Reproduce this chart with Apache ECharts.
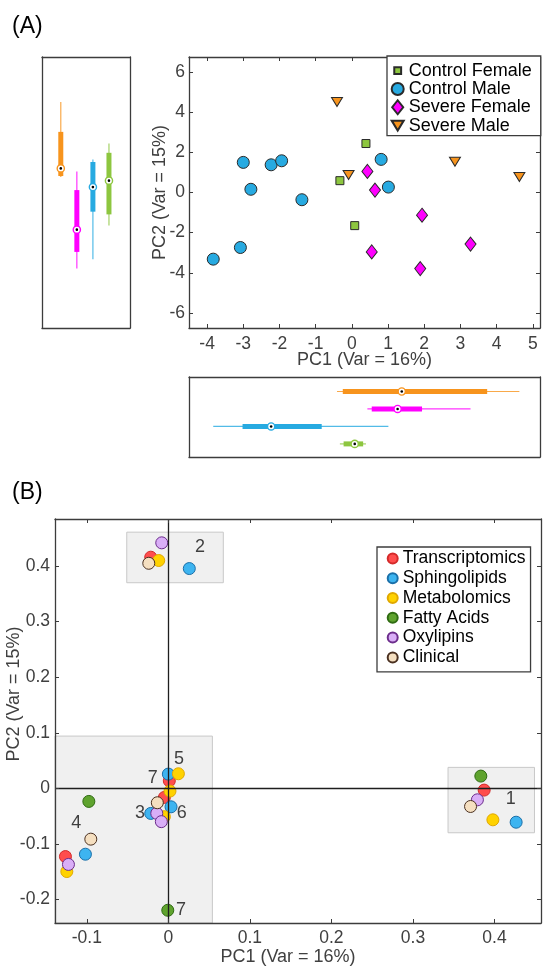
<!DOCTYPE html>
<html>
<head>
<meta charset="utf-8">
<script src="https://cdn.jsdelivr.net/npm/echarts@6/dist/echarts.min.js"></script>
<style>
  html, body { margin: 0; padding: 0; background: #fff; }
  #chart { width: 543px; height: 966px; }
</style>
</head>
<body>
<div id="chart"></div>
<script>
// ---------- Panel A: PCA scores per subject group ----------
const groupNames = ['Control Female', 'Control Male', 'Severe Female', 'Severe Male'];
const controlFemale = [[0.39, 2.44], [-0.33, 0.59], [0.08, -1.65]];
const controlMale = [[-3.00, 1.50], [-2.23, 1.38], [-1.94, 1.58], [-2.79, 0.16], [-1.38, -0.36],
                     [0.81, 1.65], [1.01, 0.27], [-3.08, -2.74], [-3.83, -3.32]];
const severeFemale = [[0.43, 1.05], [0.64, 0.12], [1.94, -1.13], [3.28, -2.57], [0.55, -2.96], [1.89, -3.79]];
const severeMale = [[-0.41, 4.51], [-0.09, 0.87], [2.85, 1.53], [4.63, 0.77]];
const ticksA_x = [-4, -3, -2, -1, 0, 1, 2, 3, 4, 5];
const ticksA_y = [-6, -4, -2, 0, 2, 4, 6];

// ---------- Panel B: loadings per data block ----------
const omicsNames = ['Transcriptomics', 'Sphingolipids', 'Metabolomics', 'Fatty Acids', 'Oxylipins', 'Clinical'];
const transcriptomics = [[-0.0216, 0.416], [0.3873, -0.0032], [-0.1262, -0.1228], [0.0012, 0.0135], [-0.0049, -0.0164]];
const sphingolipids = [[0.0257, 0.3955], [0.4265, -0.061], [-0.1017, -0.1186], [0.0, 0.0256], [0.0033, -0.0333], [-0.0216, -0.0452]];
const metabolomics = [[-0.0118, 0.41], [0.398, -0.0567], [-0.1245, -0.1498], [0.0123, 0.0262], [0.002, -0.005], [-0.0049, -0.051]];
const fattyAcids = [[0.3832, 0.022], [-0.0975, -0.0236], [-0.0007, -0.2195]];
const oxylipins = [[-0.0081, 0.4418], [0.379, -0.0207], [-0.1225, -0.137], [-0.0142, -0.045], [-0.0086, -0.060]];
const clinical = [[-0.024, 0.405], [0.3706, -0.0327], [-0.0951, -0.0915], [-0.0135, -0.026]];
const clusterLabels = [['1', 0.42, -0.02], ['2', 0.0388, 0.434], ['3', -0.0347, -0.0452], ['4', -0.113, -0.0632],
                       ['5', 0.0131, 0.052], ['6', 0.0164, -0.0452], ['7', -0.0191, 0.0178], ['7', 0.0156, -0.2195]];
// cluster regions: [x1, y1, x2, y2] in loading units
const clusterBoxes = [[-0.051, 0.370, 0.0674, 0.461], [0.343, -0.080, 0.449, 0.0377], [-0.139, -0.2424, 0.054, 0.094]];
const ticksB_x = [-0.1, 0, 0.1, 0.2, 0.3, 0.4];
const ticksB_y = [-0.2, -0.1, 0, 0.1, 0.2, 0.3, 0.4];

// ---------- styling ----------
const FONT = 'Liberation Sans, Arial, Helvetica, sans-serif';
const AXIS_COLOR = '#3c3c3c';
const TEXT_COLOR = '#404040';
const groupColors = { 'Control Female': '#8dc63f', 'Control Male': '#27aae1', 'Severe Female': '#ff00ff', 'Severe Male': '#f7941d' };
const omicsFill = ['#ff4d4d', '#3db4f0', '#ffd200', '#5fa32e', '#d9aef7', '#f5dfc0'];
const omicsBorder = ['#d42a2a', '#1b6fa8', '#e0a800', '#2f6b12', '#6c2d8c', '#4a3020'];

// MATLAB-style percentile (position p*n + 0.5, linear interpolation)
function quantileM(sorted, p) {
  const n = sorted.length;
  const pos = p * n + 0.5;
  if (pos <= 1) return sorted[0];
  if (pos >= n) return sorted[n - 1];
  const i = Math.floor(pos), f = pos - i;
  return sorted[i - 1] + f * (sorted[i] - sorted[i - 1]);
}
function boxStats(vals) {
  const s = vals.slice().sort((a, b) => a - b);
  const q1 = quantileM(s, 0.25), med = quantileM(s, 0.5), q3 = quantileM(s, 0.75);
  const iqr = q3 - q1;
  const lo = Math.min(...s.filter(v => v >= q1 - 1.5 * iqr));
  const hi = Math.max(...s.filter(v => v <= q3 + 1.5 * iqr));
  return [lo, q1, med, q3, hi];
}

// box order (1..4): Severe Male, Severe Female, Control Male, Control Female
const boxGroups = [['Severe Male', severeMale], ['Severe Female', severeFemale], ['Control Male', controlMale], ['Control Female', controlFemale]];
const boxColorList = boxGroups.map(g => groupColors[g[0]]);
const boxesPC2 = boxGroups.map((g, i) => [i + 1].concat(boxStats(g[1].map(p => p[1]))).concat([i]));
const boxesPC1 = boxGroups.map((g, i) => [i + 1].concat(boxStats(g[1].map(p => p[0]))).concat([i]));

function boxRenderer(horizontal) {
  return function (params, api) {
    const pos = api.value(0);
    const color = boxColorList[api.value(6)];
    const pt = v => horizontal ? api.coord([v, pos]) : api.coord([pos, v]);
    const a = pt(api.value(1)), b = pt(api.value(2)), m = pt(api.value(3)), c = pt(api.value(4)), d = pt(api.value(5));
    return {
      type: 'group',
      children: [
        { type: 'line', shape: { x1: a[0], y1: a[1], x2: d[0], y2: d[1] }, style: { stroke: color, lineWidth: 1.2, opacity: 0.8 } },
        { type: 'line', shape: { x1: b[0], y1: b[1], x2: c[0], y2: c[1] }, style: { stroke: color, lineWidth: 5 } },
        { type: 'circle', shape: { cx: m[0], cy: m[1], r: 3.6 }, style: { fill: '#fff', stroke: color, lineWidth: 1.4 } },
        { type: 'circle', shape: { cx: m[0], cy: m[1], r: 1.3 }, style: { fill: '#000' } }
      ]
    };
  };
}

const tickLabelStyle = { fontSize: 17.5, color: TEXT_COLOR, fontFamily: FONT };
function valueAxis(opts) {
  const o = {
    type: 'value', gridIndex: opts.grid, min: opts.min, max: opts.max, position: opts.position, z: 10,
    axisLine: { show: true, onZero: false, lineStyle: { color: AXIS_COLOR, width: 1.3 } },
    axisTick: { show: !!opts.ticks, inside: true, length: 4, customValues: opts.ticks, lineStyle: { color: AXIS_COLOR, width: 1 } },
    axisLabel: opts.labels ? Object.assign({ show: true, customValues: opts.ticks, margin: opts.margin }, tickLabelStyle) : { show: false },
    splitLine: { show: false }
  };
  if (opts.inverse) o.inverse = true;
  if (opts.name) Object.assign(o, opts.name);
  return o;
}

const A_X = [-4.5, 5.2], A_Y = [-6.75, 6.75];
const B_X = [-0.139, 0.457], B_Y = [-0.2424, 0.4847];
const nameStyle = { fontSize: 18, color: TEXT_COLOR, fontFamily: FONT };

const xAxes = [
  // 0: scatter A bottom, 1: scatter A top
  valueAxis({ grid: 0, min: A_X[0], max: A_X[1], position: 'bottom', ticks: ticksA_x, labels: true, margin: 7,
    name: { name: 'PC1 (Var = 16%)', nameLocation: 'middle', nameGap: 23, nameMoveOverlap: false, nameTextStyle: nameStyle } }),
  valueAxis({ grid: 0, min: A_X[0], max: A_X[1], position: 'top', ticks: ticksA_x }),
  // 2/3: vertical box panel
  valueAxis({ grid: 1, min: -0.17, max: 5.31, position: 'bottom' }),
  valueAxis({ grid: 1, min: -0.17, max: 5.31, position: 'top' }),
  // 4/5: horizontal box panel (shares PC1 range)
  valueAxis({ grid: 2, min: A_X[0], max: A_X[1], position: 'bottom' }),
  valueAxis({ grid: 2, min: A_X[0], max: A_X[1], position: 'top' }),
  // 6/7: panel B
  valueAxis({ grid: 3, min: B_X[0], max: B_X[1], position: 'bottom', ticks: ticksB_x, labels: true, margin: 6 }),
  valueAxis({ grid: 3, min: B_X[0], max: B_X[1], position: 'top', ticks: ticksB_x })
];
const yAxes = [
  valueAxis({ grid: 0, min: A_Y[0], max: A_Y[1], position: 'left', ticks: ticksA_y, labels: true, margin: 4,
    name: { name: 'PC2 (Var = 15%)', nameLocation: 'middle', nameGap: 20, nameMoveOverlap: false, nameTextStyle: nameStyle } }),
  valueAxis({ grid: 0, min: A_Y[0], max: A_Y[1], position: 'right', ticks: ticksA_y }),
  valueAxis({ grid: 1, min: A_Y[0], max: A_Y[1], position: 'left' }),
  valueAxis({ grid: 1, min: A_Y[0], max: A_Y[1], position: 'right' }),
  valueAxis({ grid: 2, min: 0.17, max: 4.75, position: 'left', inverse: true }),
  valueAxis({ grid: 2, min: 0.17, max: 4.75, position: 'right', inverse: true }),
  valueAxis({ grid: 3, min: B_Y[0], max: B_Y[1], position: 'left', ticks: ticksB_y, labels: true, margin: 5 }),
  valueAxis({ grid: 3, min: B_Y[0], max: B_Y[1], position: 'right', ticks: ticksB_y })
];

const scatterA = [
  { name: 'Control Female', data: controlFemale, symbol: 'rect', symbolSize: 8 },
  { name: 'Control Male', data: controlMale, symbol: 'circle', symbolSize: 12 },
  { name: 'Severe Female', data: severeFemale, symbol: 'diamond', symbolSize: [11, 14] },
  { name: 'Severe Male', data: severeMale, symbol: 'path://M0,0L11,0L5.5,9Z', symbolSize: [11, 9] }
].map(s => ({
  type: 'scatter', name: s.name, xAxisIndex: 0, yAxisIndex: 0, data: s.data, symbol: s.symbol, symbolSize: s.symbolSize,
  itemStyle: { color: groupColors[s.name], borderColor: '#2a2a2a', borderWidth: 1, opacity: 1 }, z: 3, silent: true
}));

const omicsData = [transcriptomics, sphingolipids, metabolomics, fattyAcids, oxylipins, clinical];
const scatterB = omicsNames.map((n, i) => ({
  type: 'scatter', name: n, xAxisIndex: 6, yAxisIndex: 6, data: omicsData[i], symbol: 'circle', symbolSize: 12,
  itemStyle: { color: omicsFill[i], borderColor: omicsBorder[i], borderWidth: 1, opacity: 1 }, z: 4, silent: true
}));

const option = {
  animation: false,
  backgroundColor: '#fff',
  textStyle: { fontFamily: FONT },
  grid: [
    { left: 189, top: 57, width: 351, height: 271, containLabel: false },
    { left: 42, top: 57, width: 88, height: 271, containLabel: false },
    { left: 189, top: 377, width: 351, height: 80, containLabel: false },
    { left: 55, top: 519, width: 486, height: 404, containLabel: false }
  ],
  xAxis: xAxes,
  yAxis: yAxes,
  legend: [
    {
      data: [
        { name: 'Control Female', icon: 'path://M0,0M14,14M3,3L11,3L11,11L3,11Z' },
        { name: 'Control Male', icon: 'circle' },
        { name: 'Severe Female', icon: 'path://M5.5,0L11,7L5.5,14L0,7Z' },
        { name: 'Severe Male', icon: 'path://M0,0L11,0L5.5,9Z' }
      ],
      orient: 'vertical', left: 387, top: 56, padding: [5.5, 9, 1, 3.7], itemGap: 0,
      itemWidth: 12, itemHeight: 14, selectedMode: false,
      textStyle: { fontSize: 18, lineHeight: 18.3, color: '#000', fontFamily: FONT },
      borderColor: AXIS_COLOR, borderWidth: 1.3, backgroundColor: '#fff', z: 20
    },
    {
      data: omicsNames.map(n => ({ name: n, icon: 'circle' })),
      orient: 'vertical', left: 377, top: 547, padding: [1.5, 5, 4.5, 9.7], itemGap: 0,
      itemWidth: 10, itemHeight: 10, selectedMode: false,
      textStyle: { fontSize: 17.5, lineHeight: 19.8, color: '#000', fontFamily: FONT },
      borderColor: AXIS_COLOR, borderWidth: 1.3, backgroundColor: '#fff', z: 20
    }
  ],
  graphic: [
    { type: 'text', left: 12, top: 15, style: { text: '(A)', fontSize: 23, fill: '#000', fontFamily: FONT } },
    { type: 'text', left: 12, top: 481, style: { text: '(B)', fontSize: 23, fill: '#000', fontFamily: FONT } },
    { type: 'text', x: 288, y: 957, style: { text: 'PC1 (Var = 16%)', fontSize: 18, fill: TEXT_COLOR, fontFamily: FONT, align: 'center', verticalAlign: 'middle' } },
    { type: 'text', x: 14, y: 694, rotation: Math.PI / 2, style: { text: 'PC2 (Var = 15%)', fontSize: 18, fill: TEXT_COLOR, fontFamily: FONT, align: 'center', verticalAlign: 'middle' } }
  ],
  series: [
    ...scatterA,
    { type: 'custom', xAxisIndex: 2, yAxisIndex: 2, data: boxesPC2, renderItem: boxRenderer(false), silent: true, z: 3 },
    { type: 'custom', xAxisIndex: 4, yAxisIndex: 4, data: boxesPC1, renderItem: boxRenderer(true), silent: true, z: 3 },
    // shaded cluster regions
    {
      type: 'scatter', xAxisIndex: 6, yAxisIndex: 6, data: [], silent: true, z: 1,
      markArea: {
        silent: true,
        itemStyle: { color: '#f0f0f0', borderColor: '#c8c8c8', borderWidth: 1 },
        label: { show: false },
        data: clusterBoxes.map(b => [{ coord: [b[0], b[1]] }, { coord: [b[2], b[3]] }])
      }
    },
    // zero lines
    {
      type: 'scatter', xAxisIndex: 6, yAxisIndex: 6, data: [], silent: true, z: 2,
      markLine: {
        silent: true, symbol: ['none', 'none'], label: { show: false },
        lineStyle: { color: '#1e1e1e', width: 1.3, type: 'solid' },
        data: [{ xAxis: 0 }, { yAxis: 0 }]
      }
    },
    ...scatterB,
    // cluster numbers
    {
      type: 'scatter', xAxisIndex: 6, yAxisIndex: 6, silent: true, z: 5, symbolSize: 1,
      itemStyle: { color: 'transparent' },
      data: clusterLabels.map(c => ({ value: [c[1], c[2]], name: c[0] })),
      label: { show: true, position: 'inside', formatter: p => p.name, fontSize: 18, color: '#111', fontFamily: FONT }
    }
  ]
};

const chart = echarts.init(document.getElementById('chart'), null, { renderer: 'canvas' });
chart.setOption(option);
</script>
</body>
</html>
